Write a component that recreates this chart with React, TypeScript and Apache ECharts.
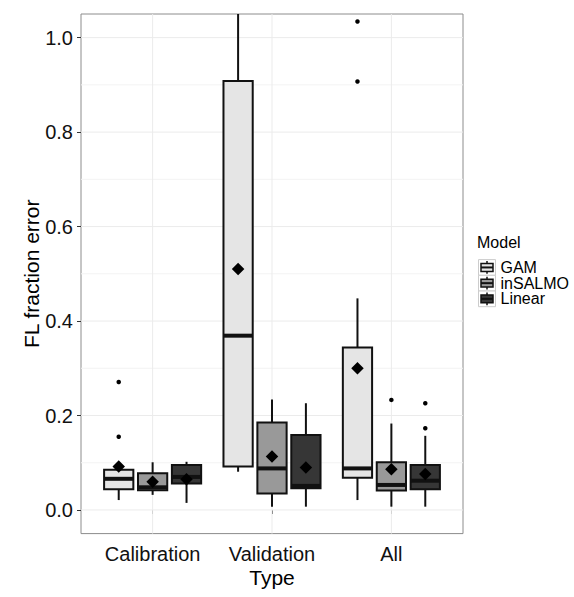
import React, { useEffect, useRef } from "react";
import * as echarts from "echarts";

// ---------- data ----------
const types = ["Calibration", "Validation", "All"];
const models = ["GAM", "inSALMO", "Linear"];

// [lower whisker, Q1, median, Q3, upper whisker] per type
const gamStats = [
  [0.021, 0.044, 0.066, 0.085, 0.093],
  [0.081, 0.092, 0.369, 0.908, 1.05],
  [0.021, 0.068, 0.088, 0.344, 0.448],
];
const insalmoStats = [
  [0.032, 0.042, 0.048, 0.078, 0.101],
  [0.007, 0.035, 0.088, 0.185, 0.234],
  [0.007, 0.041, 0.053, 0.101, 0.183],
];
const linearStats = [
  [0.015, 0.056, 0.07, 0.095, 0.102],
  [0.007, 0.046, 0.051, 0.159, 0.226],
  [0.007, 0.044, 0.062, 0.095, 0.157],
];

// mean per type
const gamMeans = [0.092, 0.51, 0.3];
const insalmoMeans = [0.06, 0.113, 0.086];
const linearMeans = [0.065, 0.09, 0.076];

// outliers: [type index, value]
const gamOutliers = [
  [0, 0.155],
  [0, 0.271],
  [2, 0.907],
  [2, 1.034],
];
const insalmoOutliers = [[2, 0.233]];
const linearOutliers = [
  [2, 0.173],
  [2, 0.226],
];

const yTicks = [0, 0.2, 0.4, 0.6, 0.8, 1.0];
const yMinorTicks = [0.1, 0.3, 0.5, 0.7, 0.9];
const xTicks = [1, 2, 3];

// ---------- styling ----------
const FONT = "'Liberation Sans', Arial, Helvetica, sans-serif";
const fills = ["#e5e5e5", "#999999", "#363636"];
const OUTLINE = "#111111";
const DODGE = [-0.284, 0, 0.284];
const BOX_W = 0.245;

const statsAll = [gamStats, insalmoStats, linearStats];
const meansAll = [gamMeans, insalmoMeans, linearMeans];
const outliersAll = [gamOutliers, insalmoOutliers, linearOutliers];

function makeBoxRender(fill: string) {
  return (params: any, api: any) => {
    const x = api.value(0);
    const low = api.coord([x, api.value(1)]);
    const q1 = api.coord([x, api.value(2)]);
    const med = api.coord([x, api.value(3)]);
    const q3 = api.coord([x, api.value(4)]);
    const high = api.coord([x, api.value(5)]);
    const w = api.size([BOX_W, 0])[0];
    const cx = med[0];
    const lineStyle = { stroke: OUTLINE, lineWidth: 2 };
    return {
      type: "group",
      children: [
        { type: "line", shape: { x1: cx, y1: high[1], x2: cx, y2: q3[1] }, style: lineStyle },
        { type: "line", shape: { x1: cx, y1: q1[1], x2: cx, y2: low[1] }, style: lineStyle },
        {
          type: "rect",
          shape: { x: cx - w / 2, y: q3[1], width: w, height: q1[1] - q3[1] },
          style: { fill, stroke: OUTLINE, lineWidth: 2 },
        },
        {
          type: "line",
          shape: { x1: cx - w / 2, y1: med[1], x2: cx + w / 2, y2: med[1] },
          style: { stroke: OUTLINE, lineWidth: 4 },
        },
      ],
    };
  };
}

function hGridRender(color: string, width: number) {
  return (params: any, api: any) => {
    const cs = params.coordSys;
    const y = api.coord([1, api.value(1)])[1];
    return {
      type: "line",
      shape: { x1: cs.x, y1: y, x2: cs.x + cs.width, y2: y },
      style: { stroke: color, lineWidth: width },
    };
  };
}

function vGridRender(params: any, api: any) {
  const cs = params.coordSys;
  const x = api.coord([api.value(0), 0])[0];
  return {
    type: "line",
    shape: { x1: x, y1: cs.y, x2: x, y2: cs.y + cs.height },
    style: { stroke: "#ebebeb", lineWidth: 1 },
  };
}

function buildLegend() {
  const children: any[] = [];
  children.push({
    type: "text",
    x: 477,
    y: 242.5,
    style: { text: "Model", font: `16px ${FONT}`, fill: "#000", verticalAlign: "middle", align: "left" },
  });
  const keyX = 478.5;
  const keyW = 17;
  const keyH = 15.7;
  const top0 = 259.6;
  models.forEach((m, k) => {
    const top = top0 + k * keyH;
    const cx = keyX + keyW / 2;
    children.push({
      type: "rect",
      shape: { x: keyX, y: top, width: keyW, height: keyH },
      style: { fill: "#ffffff", stroke: "#cccccc", lineWidth: 1 },
    });
    children.push({
      type: "line",
      shape: { x1: cx, y1: top + 1.5, x2: cx, y2: top + keyH - 1.5 },
      style: { stroke: OUTLINE, lineWidth: 1.5 },
    });
    children.push({
      type: "rect",
      shape: { x: keyX + 2.5, y: top + keyH * 0.25, width: keyW - 5, height: keyH * 0.5 },
      style: { fill: fills[k], stroke: OUTLINE, lineWidth: 1.5 },
    });
    children.push({
      type: "line",
      shape: { x1: keyX + 2.5, y1: top + keyH / 2, x2: keyX + keyW - 2.5, y2: top + keyH / 2 },
      style: { stroke: OUTLINE, lineWidth: 2 },
    });
    children.push({
      type: "text",
      x: 500.5,
      y: top + keyH / 2,
      style: { text: m, font: `16px ${FONT}`, fill: "#000", verticalAlign: "middle", align: "left" },
    });
  });
  return [{ type: "group", children }];
}

export default function App() {
  const ref = useRef<HTMLDivElement>(null);

  useEffect(() => {
    if (!ref.current) return;
    const chart = echarts.init(ref.current, undefined, { renderer: "svg" });

    const boxSeries = models.map((m, k) => ({
      type: "custom",
      name: m,
      renderItem: makeBoxRender(fills[k]),
      data: statsAll[k].map((s, i) => [i + 1 + DODGE[k], ...s]),
      encode: { x: 0, y: [1, 2, 3, 4, 5] },
      z: 3,
      silent: true,
    }));

    const meanData = models.flatMap((m, k) => meansAll[k].map((v, i) => [i + 1 + DODGE[k], v]));
    const outlierData = models.flatMap((m, k) =>
      outliersAll[k].map(([ti, v]) => [ti + 1 + DODGE[k], v])
    );

    const option: any = {
      animation: false,
      backgroundColor: "#ffffff",
      textStyle: { fontFamily: FONT },
      grid: {
        left: 81,
        top: 14,
        width: 382,
        height: 519.6,
        show: true,
        borderColor: "#8c8c8c",
        borderWidth: 1,
        backgroundColor: "transparent",
        containLabel: false,
      },
      xAxis: {
        type: "value",
        min: 0.4,
        max: 3.6,
        name: "Type",
        nameLocation: "middle",
        nameGap: 33,
        nameMoveOverlap: false,
        nameTextStyle: { fontSize: 21, color: "#000", fontFamily: FONT },
        axisLine: { show: false },
        axisTick: { show: true, length: 4, customValues: xTicks, lineStyle: { color: "#333", width: 1 } },
        axisLabel: {
          customValues: xTicks,
          fontSize: 20,
          color: "#111",
          margin: 10,
          fontFamily: FONT,
          formatter: (v: number) => types[Math.round(v) - 1] ?? "",
        },
        splitLine: { show: false },
      },
      yAxis: {
        type: "value",
        min: -0.05,
        max: 1.05,
        name: "FL fraction error",
        nameLocation: "middle",
        nameGap: 39,
        nameMoveOverlap: false,
        nameRotate: 90,
        nameTextStyle: { fontSize: 21, color: "#000", fontFamily: FONT },
        axisLine: { show: false },
        axisTick: { show: true, length: 4, customValues: yTicks, lineStyle: { color: "#333", width: 1 } },
        axisLabel: {
          customValues: yTicks,
          fontSize: 20,
          color: "#111",
          margin: 8,
          fontFamily: FONT,
          formatter: (v: number) => v.toFixed(1),
        },
        splitLine: { show: false },
      },
      series: [
        {
          type: "custom",
          name: "minorGrid",
          renderItem: hGridRender("#f3f3f3", 1),
          data: yMinorTicks.map((v) => [1, v]),
          encode: { x: 0, y: 1 },
          z: 1,
          silent: true,
        },
        {
          type: "custom",
          name: "majorGrid",
          renderItem: hGridRender("#ebebeb", 1),
          data: yTicks.map((v) => [1, v]),
          encode: { x: 0, y: 1 },
          z: 1,
          silent: true,
        },
        {
          type: "custom",
          name: "vGrid",
          renderItem: vGridRender,
          data: xTicks.map((v) => [v, 0]),
          encode: { x: 0, y: 1 },
          z: 1,
          silent: true,
        },
        ...boxSeries,
        {
          type: "scatter",
          name: "outliers",
          data: outlierData,
          symbol: "circle",
          symbolSize: 4.5,
          itemStyle: { color: "#000", opacity: 1 },
          z: 5,
          silent: true,
        },
        {
          type: "scatter",
          name: "means",
          data: meanData,
          symbol: "diamond",
          symbolSize: 12.5,
          itemStyle: { color: "#000", opacity: 1 },
          z: 6,
          silent: true,
        },
      ],
      graphic: buildLegend(),
    };

    chart.setOption(option);
    return () => chart.dispose();
  }, []);

  return (
    <div
      ref={ref}
      style={{ position: "absolute", left: 0, top: 0, width: 574, height: 597, background: "#fff" }}
    />
  );
}
